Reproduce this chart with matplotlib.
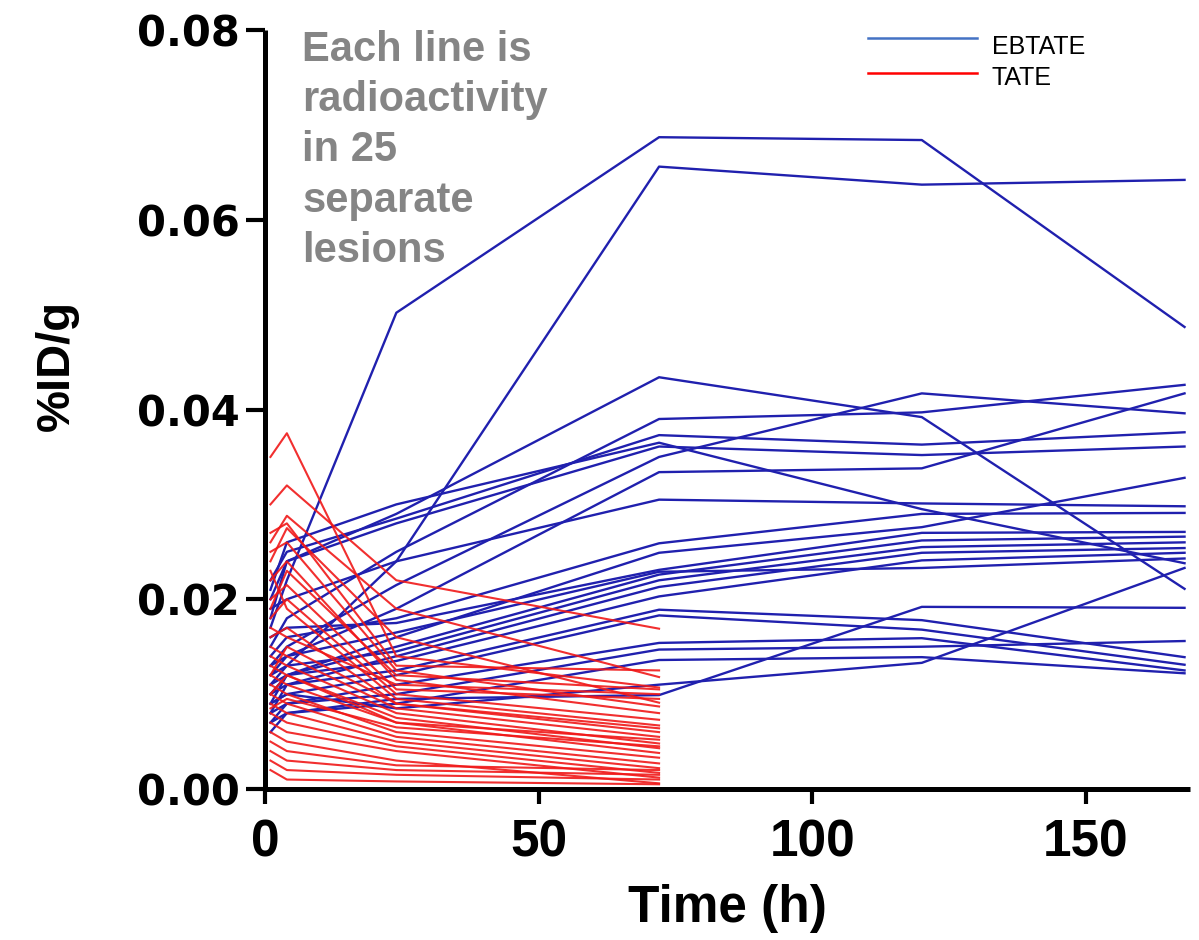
import matplotlib
matplotlib.use("Agg")
import matplotlib.pyplot as plt
from matplotlib.lines import Line2D

# ---- data ----
t_ebtate = [1, 4, 24, 72, 120, 168]
ebtate = [
    [0.0170, 0.0220, 0.0502, 0.0687, 0.0684, 0.0487],
    [0.0110, 0.0130, 0.0240, 0.0656, 0.0637, 0.0642],
    [0.0200, 0.0240, 0.0290, 0.0434, 0.0392, 0.0211],
    [0.0150, 0.0180, 0.0250, 0.0390, 0.0397, 0.0426],
    [0.0130, 0.0150, 0.0215, 0.0350, 0.0417, 0.0396],
    [0.0220, 0.0250, 0.0285, 0.0373, 0.0363, 0.0376],
    [0.0180, 0.0240, 0.0280, 0.0361, 0.0352, 0.0361],
    [0.0120, 0.0140, 0.0190, 0.0334, 0.0338, 0.0417],
    [0.0190, 0.0200, 0.0240, 0.0305, 0.0301, 0.0298],
    [0.0140, 0.0160, 0.0180, 0.0259, 0.0290, 0.0291],
    [0.0100, 0.0120, 0.0160, 0.0249, 0.0276, 0.0328],
    [0.0160, 0.0170, 0.0175, 0.0231, 0.0270, 0.0271],
    [0.0090, 0.0120, 0.0150, 0.0226, 0.0262, 0.0266],
    [0.0120, 0.0130, 0.0145, 0.0220, 0.0255, 0.0260],
    [0.0080, 0.0110, 0.0140, 0.0213, 0.0249, 0.0254],
    [0.0110, 0.0120, 0.0135, 0.0203, 0.0241, 0.0249],
    [0.0130, 0.0140, 0.0165, 0.0229, 0.0233, 0.0243],
    [0.0210, 0.0260, 0.0300, 0.0365, 0.0295, 0.0238],
    [0.0100, 0.0110, 0.0125, 0.0189, 0.0178, 0.0139],
    [0.0090, 0.0100, 0.0120, 0.0183, 0.0168, 0.0131],
    [0.0080, 0.0090, 0.0110, 0.0154, 0.0159, 0.0125],
    [0.0070, 0.0090, 0.0100, 0.0147, 0.0150, 0.0156],
    [0.0060, 0.0080, 0.0090, 0.0136, 0.0139, 0.0122],
    [0.0070, 0.0080, 0.0095, 0.0099, 0.0192, 0.0191],
    [0.0090, 0.0100, 0.0085, 0.0110, 0.0133, 0.0233],
]

t_tate = [1, 4, 24, 72]
tate = [
    [0.0350, 0.0375, 0.0140, 0.0107],
    [0.0300, 0.0320, 0.0220, 0.0169],
    [0.0260, 0.0288, 0.0190, 0.0118],
    [0.0270, 0.0280, 0.0130, 0.0125],
    [0.0240, 0.0275, 0.0160, 0.0091],
    [0.0250, 0.0260, 0.0125, 0.0087],
    [0.0220, 0.0240, 0.0115, 0.0080],
    [0.0200, 0.0215, 0.0105, 0.0095],
    [0.0180, 0.0200, 0.0100, 0.0073],
    [0.0230, 0.0190, 0.0095, 0.0067],
    [0.0160, 0.0170, 0.0090, 0.0060],
    [0.0150, 0.0140, 0.0085, 0.0055],
    [0.0140, 0.0130, 0.0080, 0.0048],
    [0.0130, 0.0120, 0.0075, 0.0043],
    [0.0120, 0.0110, 0.0070, 0.0038],
    [0.0110, 0.0100, 0.0060, 0.0033],
    [0.0100, 0.0090, 0.0055, 0.0027],
    [0.0090, 0.0080, 0.0050, 0.0022],
    [0.0080, 0.0070, 0.0045, 0.0017],
    [0.0070, 0.0060, 0.0040, 0.0012],
    [0.0060, 0.0050, 0.0030, 0.0006],
    [0.0050, 0.0040, 0.0025, 0.0020],
    [0.0040, 0.0030, 0.0020, 0.0015],
    [0.0030, 0.0020, 0.0015, 0.0010],
    [0.0020, 0.0010, 0.0008, 0.0005],
    [0.0190, 0.0230, 0.0120, 0.0105],
    [0.0170, 0.0160, 0.0110, 0.0100],
    [0.0120, 0.0150, 0.0090, 0.0064],
    [0.0100, 0.0120, 0.0070, 0.0052],
    [0.0085, 0.0095, 0.0065, 0.0045],
]

x_ticks = [0, 50, 100, 150]
y_ticks = [0.00, 0.02, 0.04, 0.06, 0.08]
y_ticklabels = ["0.00", "0.02", "0.04", "0.06", "0.08"]
legend_labels = ["EBTATE", "TATE"]
note = "Each line is\nradioactivity\nin 25\nseparate\nlesions"

BLUE = "#2020ae"
RED = "#f01818"

fig = plt.figure(figsize=(11.99, 9.4), dpi=100)
ax = fig.add_axes([0.221, 0.1606, 0.7715, 0.8075])

for s in ebtate:
    ax.plot(t_ebtate, s, color=BLUE, lw=1.7, zorder=2)
for s in tate:
    ax.plot(t_tate, s, color=RED, lw=1.5, alpha=0.9, zorder=3)

ax.set_xlim(0, 169)
ax.set_ylim(0, 0.08)
ax.spines["top"].set_visible(False)
ax.spines["right"].set_visible(False)
for sp in ["left", "bottom"]:
    ax.spines[sp].set_linewidth(3.6)
    ax.spines[sp].set_capstyle("butt")

ax.set_xticks(x_ticks)
ax.set_xticklabels([str(v) for v in x_ticks], fontfamily="Liberation Sans",
                   fontweight="bold", fontsize=37)
ax.set_yticks(y_ticks)
ax.set_yticklabels(y_ticklabels, fontfamily="DejaVu Sans", fontweight="bold",
                   fontsize=30)
ax.tick_params(axis="y", length=14, width=3, pad=4)
ax.tick_params(axis="x", length=11, width=3, pad=10)

ax.set_xlabel("Time (h)", fontfamily="Liberation Sans", fontweight="bold",
              fontsize=37, labelpad=12)
fig.text(57 / 1199, 1 - 365 / 940, "%ID/g", rotation=90, ha="center", va="center",
         fontfamily="Liberation Sans", fontweight="bold", fontsize=34)

fig.text(302 / 1199, 1 - 30 / 940, note, ha="left", va="top", color="#858585",
         fontfamily="Liberation Sans", fontweight="bold", fontsize=30, linespacing=1.33)

# legend
for lbl, col, yy, ty in zip(legend_labels, ["#4472c4", "#ff0000"], [38, 73], [47, 78]):
    fig.add_artist(Line2D([868 / 1199, 977 / 1199], [1 - yy / 940, 1 - yy / 940],
                          color=col, lw=1.8))
    fig.text(992 / 1199, 1 - ty / 940, lbl, ha="left", va="center",
             fontfamily="Liberation Sans", fontsize=18)

fig.savefig("out.png", dpi=100)
